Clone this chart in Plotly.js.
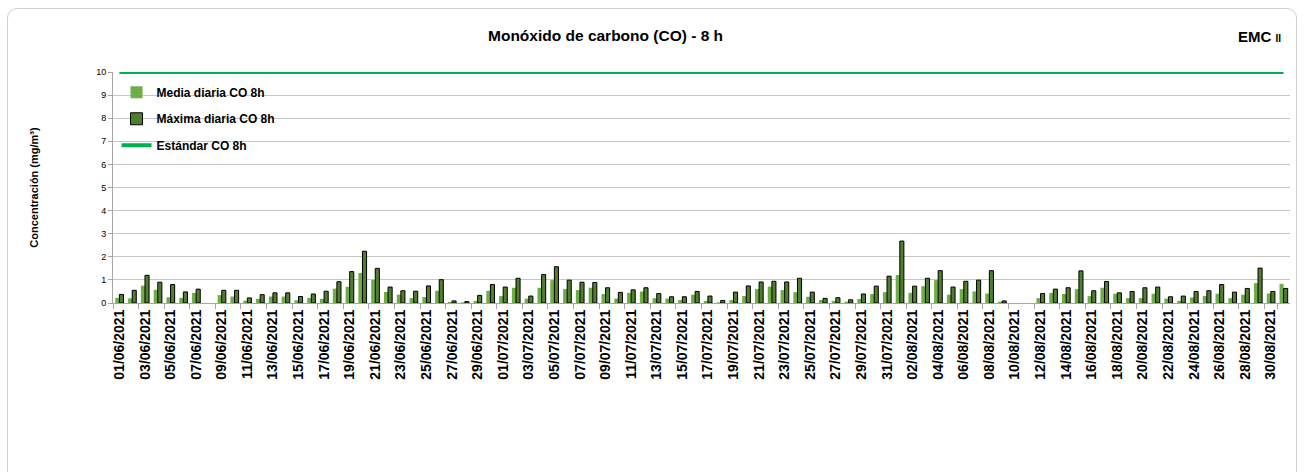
<!DOCTYPE html>
<html>
<head>
<meta charset="utf-8">
<script src="https://cdn.plot.ly/plotly-3.0.1.min.js"></script>
<style>
  html, body { margin: 0; padding: 0; background: #ffffff; }
  #wrap { position: relative; width: 1306px; height: 472px; overflow: hidden; }
  #chart { width: 1306px; height: 472px; }
  #frame { position: absolute; left: 7px; top: 8px; width: 1290px; height: 490px;
           border: 1px solid #d0d0d0; border-radius: 10px; pointer-events: none; box-sizing: border-box; }
</style>
</head>
<body>
<div id="wrap">
  <div id="chart"></div>
  <div id="frame"></div>
</div>
<script>
const categories = [
  "01/06/2021","02/06/2021","03/06/2021","04/06/2021","05/06/2021","06/06/2021","07/06/2021","08/06/2021","09/06/2021","10/06/2021",
  "11/06/2021","12/06/2021","13/06/2021","14/06/2021","15/06/2021","16/06/2021","17/06/2021","18/06/2021","19/06/2021","20/06/2021",
  "21/06/2021","22/06/2021","23/06/2021","24/06/2021","25/06/2021","26/06/2021","27/06/2021","28/06/2021","29/06/2021","30/06/2021",
  "01/07/2021","02/07/2021","03/07/2021","04/07/2021","05/07/2021","06/07/2021","07/07/2021","08/07/2021","09/07/2021","10/07/2021",
  "11/07/2021","12/07/2021","13/07/2021","14/07/2021","15/07/2021","16/07/2021","17/07/2021","18/07/2021","19/07/2021","20/07/2021",
  "21/07/2021","22/07/2021","23/07/2021","24/07/2021","25/07/2021","26/07/2021","27/07/2021","28/07/2021","29/07/2021","30/07/2021",
  "31/07/2021","01/08/2021","02/08/2021","03/08/2021","04/08/2021","05/08/2021","06/08/2021","07/08/2021","08/08/2021","09/08/2021",
  "10/08/2021","11/08/2021","12/08/2021","13/08/2021","14/08/2021","15/08/2021","16/08/2021","17/08/2021","18/08/2021","19/08/2021",
  "20/08/2021","21/08/2021","22/08/2021","23/08/2021","24/08/2021","25/08/2021","26/08/2021","27/08/2021","28/08/2021","29/08/2021",
  "30/08/2021","31/08/2021"
];

const mediaDiaria = [
  0.22, 0.20, 0.75, 0.57, 0.25, 0.22, 0.44, null, 0.34, 0.28,
  0.10, 0.18, 0.28, 0.28, 0.12, 0.22, 0.18, 0.62, 0.70, 1.30,
  1.00, 0.48, 0.36, 0.21, 0.26, 0.53, 0.04, 0.03, 0.09, 0.53,
  0.30, 0.66, 0.19, 0.66, 0.99, 0.60, 0.56, 0.66, 0.39, 0.19,
  0.44, 0.50, 0.21, 0.19, 0.13, 0.36, 0.09, 0.03, 0.13, 0.30,
  0.60, 0.71, 0.56, 0.47, 0.27, 0.13, 0.09, 0.06, 0.17, 0.39,
  0.47, 1.21, 0.44, 0.73, 0.99, 0.36, 0.60, 0.50, 0.41, 0.06,
  null, null, 0.21, 0.44, 0.39, 0.60, 0.30, 0.66, 0.40, 0.21,
  0.21, 0.40, 0.19, 0.09, 0.24, 0.30, 0.40, 0.21, 0.36, 0.86,
  0.41, 0.83
];

const maximaDiaria = [
  0.37, 0.55, 1.20, 0.90, 0.80, 0.48, 0.60, null, 0.55, 0.55,
  0.22, 0.36, 0.44, 0.44, 0.28, 0.39, 0.51, 0.92, 1.36, 2.24,
  1.50, 0.69, 0.53, 0.51, 0.74, 1.01, 0.09, 0.06, 0.33, 0.80,
  0.69, 1.07, 0.30, 1.23, 1.57, 0.99, 0.90, 0.89, 0.66, 0.46,
  0.57, 0.66, 0.41, 0.27, 0.27, 0.50, 0.30, 0.11, 0.47, 0.74,
  0.91, 0.94, 0.91, 1.07, 0.47, 0.20, 0.23, 0.14, 0.39, 0.73,
  1.16, 2.68, 0.73, 1.07, 1.40, 0.69, 0.94, 0.99, 1.40, 0.09,
  null, null, 0.41, 0.60, 0.66, 1.39, 0.53, 0.93, 0.44, 0.50,
  0.66, 0.69, 0.27, 0.30, 0.50, 0.53, 0.80, 0.47, 0.63, 1.51,
  0.50, 0.63
];

const estandarCO = 10;
const yTickVals = [0, 1, 2, 3, 4, 5, 6, 7, 8, 9, 10];
const xTickLabels = categories.filter((c, i) => i % 2 === 0);

const FONT = "Liberation Sans, Arial, sans-serif";

const traces = [
  {
    type: "bar", name: "Media diaria CO 8h", x: categories, y: mediaDiaria,
    marker: { color: "#70AD47", line: { width: 0 } },
    legendgroup: "a", hoverinfo: "x+y"
  },
  {
    type: "bar", name: "Máxima diaria CO 8h", x: categories, y: maximaDiaria,
    marker: { color: "#4F7E2F", line: { color: "#000000", width: 1 } },
    legendgroup: "b", hoverinfo: "x+y"
  },
  {
    type: "scatter", mode: "lines", name: "Estándar CO 8h", x: categories,
    y: categories.map(() => estandarCO),
    line: { color: "#00B050", width: 4 },
    cliponaxis: false, legendgroup: "c", hoverinfo: "x+y"
  }
];

const layout = {
  width: 1306, height: 472,
  margin: { l: 113, r: 16, t: 72, b: 169 },
  paper_bgcolor: "rgba(0,0,0,0)",
  plot_bgcolor: "#ffffff",
  font: { family: FONT, color: "#000000" },
  barmode: "group",
  bargap: 0.36,
  bargroupgap: 0,
  showlegend: true,
  legend: {
    x: 0.003, y: 0.975, xanchor: "left", yanchor: "top",
    bgcolor: "rgba(255,255,255,0)",
    font: { family: FONT, size: 12, weight: "bold", color: "#000000" },
    traceorder: "grouped",
    tracegroupgap: 7.5,
    itemwidth: 30
  },
  xaxis: {
    type: "category",
    categoryorder: "array",
    categoryarray: categories,
    tickmode: "array",
    tickvals: xTickLabels,
    ticktext: xTickLabels,
    tickangle: -90,
    tickfont: { family: FONT, size: 14, weight: "bold", color: "#000000" },
    ticks: "outside", ticklen: 5, tickcolor: "#a6a6a6",
    tickson: "boundaries",
    showline: true, linecolor: "#a6a6a6", linewidth: 1,
    showgrid: false, zeroline: false,
    range: [-0.5, categories.length - 0.5]
  },
  yaxis: {
    range: [0, 10],
    tickmode: "array",
    tickvals: yTickVals,
    tickfont: { family: FONT, size: 9, color: "#000000" },
    ticks: "outside", ticklen: 4, tickcolor: "#a6a6a6",
    showline: true, linecolor: "#a6a6a6", linewidth: 1,
    showgrid: true, gridcolor: "#c6c6c6", gridwidth: 1,
    zeroline: false,
    title: {
      text: "Concentración (mg/m³)",
      font: { family: FONT, size: 11, weight: "bold", color: "#000000" },
      standoff: 55
    }
  },
  annotations: [
    {
      xref: "paper", yref: "paper",
      x: (605 - 113) / 1177, y: (303 - 36) / 231,
      xanchor: "center", yanchor: "middle",
      text: "Monóxido de carbono (CO) - 8 h",
      showarrow: false,
      font: { family: FONT, size: 15.5, weight: "bold", color: "#000000" }
    },
    {
      xref: "paper", yref: "paper",
      x: (1283 - 113) / 1177, y: (303 - 37) / 231,
      xanchor: "right", yanchor: "middle",
      text: "EMC <span style='font-size:10px'>II</span>",
      showarrow: false,
      font: { family: FONT, size: 15, weight: "bold", color: "#000000" }
    }
  ]
};

Plotly.newPlot("chart", traces, layout, { displayModeBar: false, staticPlot: true });
</script>
</body>
</html>
